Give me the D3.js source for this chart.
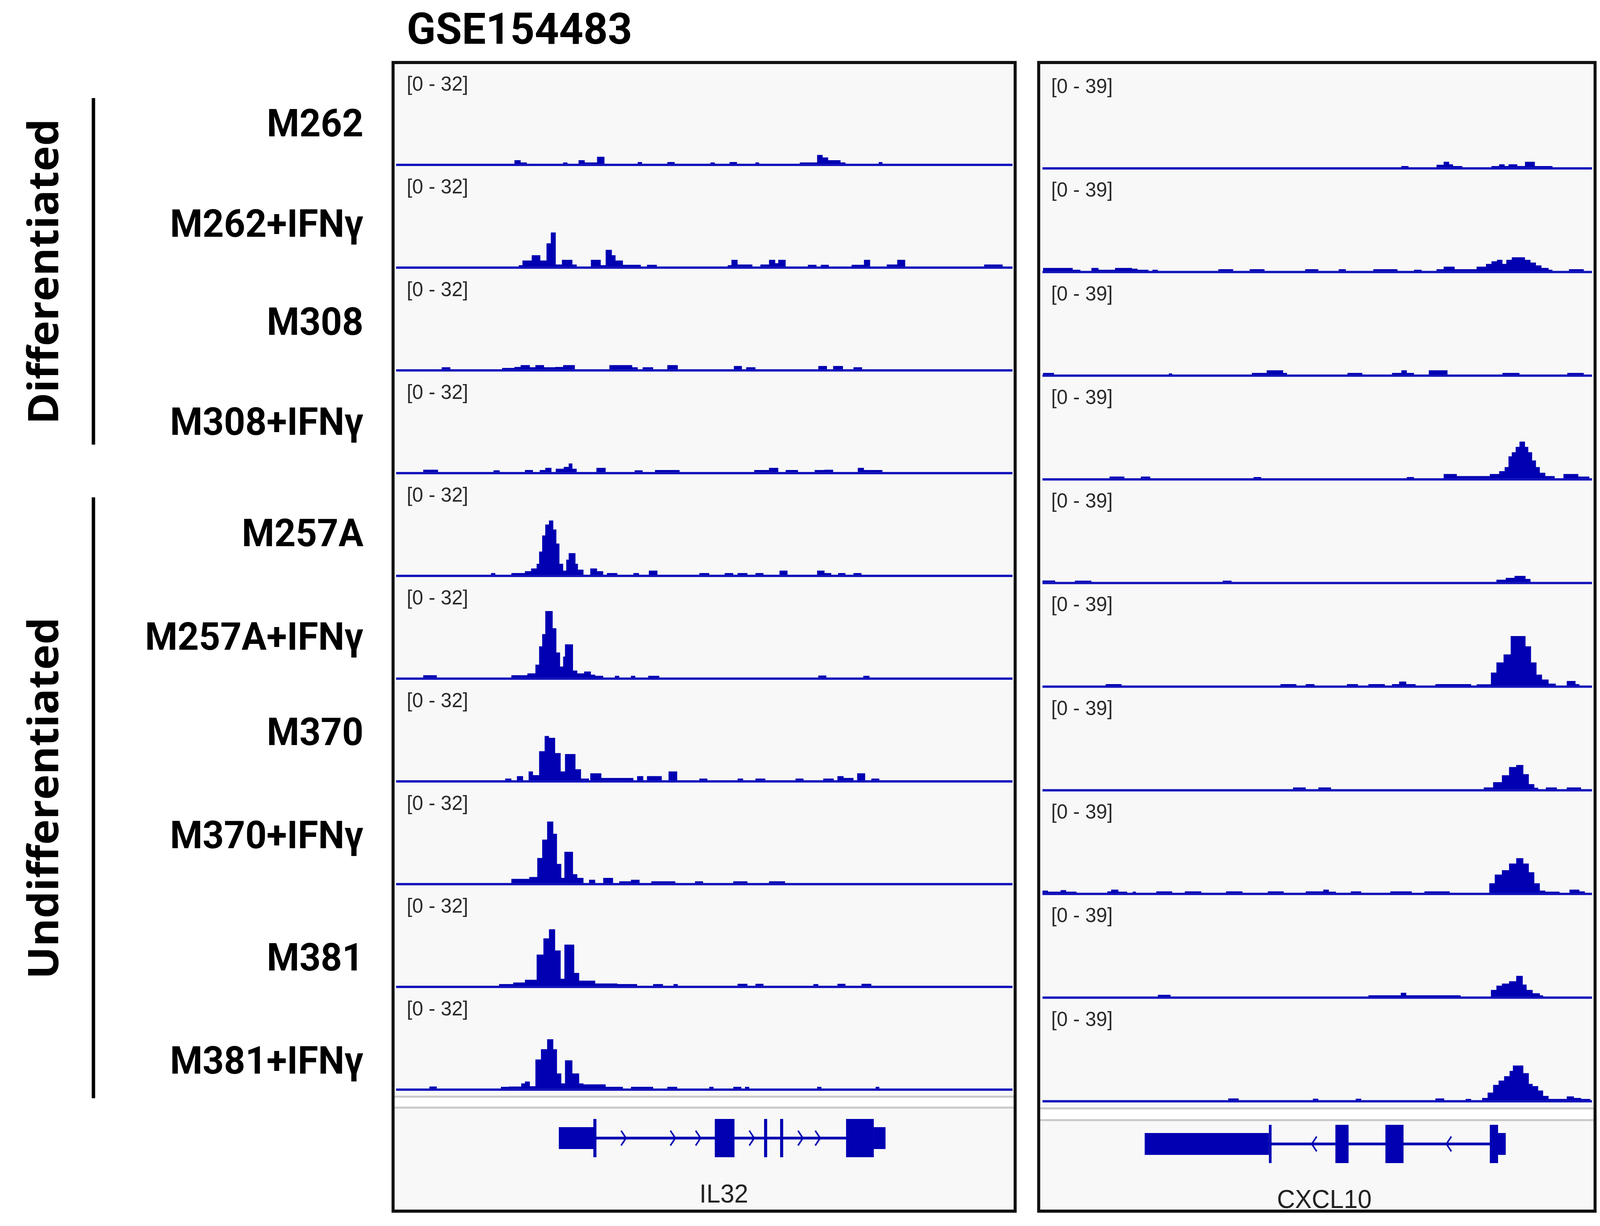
<!DOCTYPE html>
<html>
<head>
<meta charset="utf-8">
<script src="https://cdn.jsdelivr.net/npm/d3@7/dist/d3.min.js"></script>
<style>
  html, body { margin: 0; padding: 0; width: 100%; height: 100%; overflow: hidden; background: #fff; }
  svg { display: block; width: 100vw; height: 100vh; }
</style>
</head>
<body>
<svg id="chart"></svg>
<script>
// sample names, top to bottom
const samples = ['M262', 'M262+IFNγ', 'M308', 'M308+IFNγ', 'M257A', 'M257A+IFNγ', 'M370', 'M370+IFNγ', 'M381', 'M381+IFNγ'];
const groups = [
  { name: 'Differentiated', first: 0, last: 3 },
  { name: 'Undifferentiated', first: 4, last: 9 }
];

// coverage: [start, end, value], start/end in % of the locus window
const il32_M262 = [[19.2,20.2,1.5],[20.2,21.2,0.8],[27.1,27.8,0.8],[29.6,30.6,1.5],[30.6,32.6,0.8],[32.6,33.8,2.6],[39.2,39.9,0.9],[44,45.2,0.9],[51,51.7,0.8],[54.1,55.3,0.9],[58.3,58.9,0.8],[65.5,68.3,0.8],[68.3,69.2,3.2],[69.2,70.1,2.4],[70.1,72.1,1.5],[72.1,72.9,0.8],[78.3,78.9,0.9]];
const il32_M262_IFNg = [[19.9,20.5,0.8],[20.5,22,2.3],[22,23.4,4],[23.4,24.4,2.3],[24.4,25.1,7.8],[25.1,25.9,11.3],[25.9,26.9,1],[26.9,28.6,2.5],[28.6,29.3,1],[31.6,33.2,2.5],[33.2,34,0.8],[34,35,5.7],[35,35.6,4],[35.6,36.8,2.3],[36.8,39.7,0.9],[40.7,42.3,0.9],[53.8,54.4,0.8],[54.4,55.4,2.5],[55.4,57.8,1],[59.1,60.5,1],[60.5,61.5,2.5],[61.5,62,1.4],[62,63.2,2.5],[66.8,68.2,0.9],[68.9,70.2,0.9],[73.9,75.9,0.9],[75.9,76.9,2.5],[79.6,81.3,1],[81.3,82.6,2.5],[95.4,98.4,1]];
const il32_M308 = [[7.4,8.8,1],[17.2,19.2,0.8],[19.2,20.2,1.1],[20.2,21.7,1.7],[21.7,22.6,1],[22.6,24,1.7],[24,25.8,1],[25.8,27.1,1.1],[27.1,29,1.7],[34.6,38.3,1.7],[38.3,39.2,1],[40,41.7,1],[44,45.7,1.7],[54.8,56.1,1.4],[56.8,58.3,1],[68.5,69.9,1.4],[70.9,72.5,1.4],[74.2,75.6,1]];
const il32_M308_IFNg = [[4.4,6.8,1.1],[15.8,16.8,0.9],[20.9,22.2,1],[23.3,24.2,1],[24.2,25.2,1.7],[25.9,27.2,1.4],[27.2,28,2],[28,28.6,3.1],[28.6,29.3,1.4],[32.5,34,1.7],[38.7,40,0.9],[42,46,1],[58.1,60.5,1],[60.5,62,1.7],[63.2,65.2,1],[67.9,69.5,1],[69.5,70.9,1.1],[74.9,75.9,1.7],[75.9,78.9,1]];
const il32_M257A = [[15.4,16.1,0.9],[18.7,20.9,0.9],[20.9,21.9,1.5],[21.9,22.8,2.4],[22.8,23.2,3.9],[23.2,23.7,7.8],[23.7,24.2,13],[24.2,24.8,16.5],[24.8,25.5,17.8],[25.5,26,14.9],[26,26.5,10.4],[26.5,27.1,3.9],[27.1,27.6,1.7],[27.6,28,5.2],[28,29.1,7.3],[29.1,29.5,3.9],[29.5,30.4,2],[31.5,32.6,2.4],[32.6,33.6,1.5],[34.2,35.9,0.9],[38.5,39.4,0.9],[41,42.4,1.7],[49.2,50.8,0.9],[53.3,54.7,0.9],[55.4,57,0.9],[58.3,59.6,0.9],[62.2,63.5,1.7],[68.3,69.5,1.7],[69.5,70.6,0.9],[71.7,72.9,0.9],[74.2,75.5,0.9]];
const il32_M257A_IFNg = [[4.4,6.6,1.1],[18.7,21.3,1.1],[21.3,22.6,1.7],[22.6,23.2,4.5],[23.2,23.7,10.4],[23.7,24.2,14.3],[24.2,25.4,21.7],[25.4,26,16.2],[26,26.6,8.4],[26.6,27.1,3.9],[27.1,27.4,7.1],[27.4,28.7,11],[28.7,29.4,2.6],[29.4,30.5,1.7],[30.5,31.6,2.3],[31.6,32.3,1.3],[32.3,33.6,0.9],[35.5,36.2,0.9],[38.1,38.8,0.9],[40.9,42.7,0.9],[68.5,69.8,1],[75.8,76.8,0.9]];
const il32_M370 = [[17.7,18.7,0.9],[19.6,20.6,1.7],[21.5,22.2,3.2],[22.2,23.2,2],[23.2,24.1,9.7],[24.1,24.8,14.6],[24.8,25.8,14],[25.8,26.7,9.1],[26.7,27.4,3.2],[27.4,29.1,8.8],[29.1,30,3.9],[30,31.3,0.9],[31.5,33.3,2.6],[33.3,34.6,1.1],[34.6,38.5,1.1],[39.1,40.1,1.7],[40.7,43.1,1.7],[44.2,45.6,3.2],[49.2,50.5,0.9],[55.4,56.3,0.9],[58.3,59.9,0.9],[64.8,66.1,0.9],[69.3,71,0.9],[71.6,72.6,1.7],[72.6,74.2,1.1],[74.8,76.1,2.6],[77.1,78.4,0.9]];
const il32_M370_IFNg = [[18.7,21.6,1.7],[21.6,22.9,2.3],[22.9,23.7,8.4],[23.7,24.5,14.3],[24.5,25.5,20.1],[25.5,26.1,16.2],[26.1,26.8,6.5],[26.8,27.3,2],[27.3,28.7,10.4],[28.7,29.4,3.2],[29.4,30.4,2],[31.3,32.3,1.4],[33.6,35.2,2],[36.2,38.1,0.9],[38.1,39.5,1.4],[41.4,45.3,0.9],[48.5,49.8,0.9],[54.7,57,0.9],[60.5,63.1,0.9]];
const il32_M381 = [[16.7,19,0.9],[19,20.9,1.4],[20.9,22.8,2.3],[22.8,23.9,10.4],[23.9,24.8,15.6],[24.8,25.8,18.5],[25.8,26.7,11.7],[26.7,27.3,2.6],[27.3,28.9,13.6],[28.9,29.7,4.5],[29.7,32.3,2],[32.3,35.9,1.1],[35.9,39.1,0.9],[41.7,43.3,0.9],[45,45.7,0.9],[55.4,57,1],[58.3,59.6,1],[67.7,68.5,0.9],[71.6,72.9,1],[75.5,77.1,1]];
const il32_M381_IFNg = [[5.4,6.6,1],[17,18.3,0.9],[18.3,20.3,1],[20.3,20.9,2],[20.9,21.7,2.6],[21.7,22.6,1.1],[22.6,23.5,9.7],[23.5,24.5,13],[24.5,25.5,16.2],[25.5,26.1,13],[26.1,26.8,5.2],[26.8,27.4,2],[27.4,28.6,9.4],[28.6,29.7,5.2],[29.7,30.4,2],[30.4,34,1.7],[34,36.8,0.9],[38.1,41.7,0.9],[44,45.6,0.9],[50.8,51.5,0.9],[54.7,56,0.9],[56.6,57.3,0.9],[68.3,69,0.9],[77.8,78.4,0.9]];

const cxcl10_M262 = [[65.3,66.6,0.9],[71.7,73,1.4],[73,74,2.6],[74,74.7,1.6],[74.7,76.4,0.9],[81.7,83.1,0.9],[83.1,84.1,1.6],[84.1,84.8,0.9],[84.8,86.4,1.6],[86.4,87.8,0.9],[87.8,89.6,2.6],[89.6,92.8,0.9]];
const cxcl10_M262_IFNg = [[0.1,5.5,1.6],[5.5,6.9,0.9],[8.9,10.2,1.6],[10.2,13.2,0.9],[13.2,16.3,1.6],[16.3,17.3,1.3],[17.3,19.3,0.9],[20,21,0.9],[32,34.7,1.1],[37.7,40.4,1.1],[47.8,50.2,1.1],[53.9,55.2,1.1],[60.2,64.6,1.1],[67.6,69,0.9],[71.7,73,1.1],[73,75,2.1],[75,79,1.1],[79,80.7,2.1],[80.7,81.7,3.2],[81.7,82.7,4.2],[82.7,83.7,4.8],[83.7,84.4,3.2],[84.4,85.4,4.8],[85.4,87.8,5.8],[87.8,88.8,4.8],[88.8,89.8,3.7],[89.8,90.8,2.6],[90.8,92.1,1.6],[92.1,92.8,0.9],[95.8,98.5,1.1]];
const cxcl10_M308 = [[0.1,2.1,1.1],[23,23.6,0.9],[38.1,40.8,1.1],[40.8,43.8,2.1],[43.8,44.5,1.1],[55.5,58.2,1.1],[63.6,65.3,1.1],[65.3,66.3,2.1],[66.3,67.6,1.1],[70.3,73.7,2.1],[83.7,86.8,1.1],[95.5,98.5,1.1]];
const cxcl10_M308_IFNg = [[12.2,14.9,1.1],[17.9,19.6,1.1],[38.4,39.8,0.9],[66.3,67.6,0.9],[73,75.4,2.1],[75.4,79,1.3],[79,81.4,1.3],[81.4,83.1,2.1],[83.1,84.1,3.2],[84.1,84.8,4.8],[84.8,85.4,9],[85.4,86.1,10.6],[86.1,86.8,12.7],[86.8,87.8,14.8],[87.8,88.4,12.7],[88.4,89.1,10.6],[89.1,89.8,7.4],[89.8,90.5,4.8],[90.5,91.5,2.6],[91.5,93.2,1.3],[94.8,97.5,2.1],[97.5,99.5,1.1]];
const cxcl10_M257A = [[0,2.3,1],[5.9,8.9,0.9],[32.8,34.4,0.9],[82.6,84.3,1.3],[84.3,85.9,2],[85.9,87.9,2.8],[87.9,88.8,1.6]];
const cxcl10_M257A_IFNg = [[11.5,14.4,1],[43.3,46.2,1],[47.9,49.5,1],[55.4,57.4,1],[59.3,62.3,1],[63.6,64.9,1],[64.9,66.2,2],[66.2,67.9,1],[71.5,78,1],[79,81.6,0.9],[81.6,82.6,5.5],[82.6,83.9,9.5],[83.9,85.2,12.6],[85.2,87.9,19.8],[87.9,88.9,15.8],[88.9,89.9,9.5],[89.9,90.9,4.7],[90.9,92.1,2.8],[92.1,93.4,1.2],[95.4,97,2.2],[97,97.7,1]];
const cxcl10_M370 = [[45.6,47.9,1.1],[50.2,52.5,1.1],[80.3,82,1.1],[82,83.6,3.2],[83.6,84.9,5.9],[84.9,86.2,9.1],[86.2,87.5,9.9],[87.5,88.5,6.3],[88.5,89.5,2.4],[89.5,90.2,1],[91.6,93.6,1.1],[95.4,98,1.1]];
const cxcl10_M370_IFNg = [[0,1,1.3],[1,3.3,0.9],[3.3,4.3,1.5],[4.3,6.2,0.9],[11.8,12.5,1],[12.5,13.8,1.7],[13.8,15.4,0.9],[16.4,17,0.9],[20.7,23.6,1],[25.9,28.9,1],[33.4,36.4,1],[41,43.9,1],[47.9,51.1,1],[51.1,52.1,1.7],[52.1,53.4,0.9],[56.1,58,1],[63.3,67.2,1],[69.5,74.1,1],[81.3,82.3,4.2],[82.3,83.6,7.6],[83.6,84.9,9.3],[84.9,86.2,11.9],[86.2,87.5,14],[87.5,88.5,11.9],[88.5,89.5,8.5],[89.5,90.5,4.2],[90.5,91.5,1.3],[91.5,94.1,0.9],[95.9,97.7,1.7],[97.7,98.7,1]];
const cxcl10_M381 = [[21,23.3,1.1],[59.3,65.2,0.9],[65.2,66.2,1.9],[66.2,67.2,0.9],[67.2,76.1,0.9],[81.6,82.6,3],[82.6,83.6,4.7],[83.6,84.9,5.5],[84.9,86.2,6.4],[86.2,87.4,8.5],[87.4,88.1,5.1],[88.1,89.2,3],[89.2,90.5,1.7],[90.5,91.1,0.9]];
const cxcl10_M381_IFNg = [[33.8,35.7,1.1],[49.2,50.2,1],[57,58,1],[71.5,73.1,1.1],[77,78,0.9],[80,81,1.3],[81,82,3.4],[82,83,6.4],[83,84,8.1],[84,85,9.8],[85,85.6,11.9],[85.6,87.5,14],[87.5,88.5,11],[88.5,89.2,6.8],[89.2,90.2,5.9],[90.2,91.1,4.2],[91.1,92.1,2.1],[92.1,95.4,0.9],[95.4,96.7,1.9],[96.7,98,1.3],[98,99.7,0.9]];

// gene models: [start, end, kind]  (utr = thin block, cds = tall block)
const il32Exons = [[26.4,32.0,'utr'],[32.0,32.5,'cds'],[51.7,54.9,'cds'],[59.7,60.2,'cds'],[62.3,62.8,'cds'],[73.0,77.5,'cds'],[77.5,79.4,'utr']];
const il32Strand = [37.3, 45.3, 49.4, 58.1, 66.0, 68.8];
const cxcl10Exons = [[18.6,41.2,'utr'],[41.2,41.6,'cds'],[53.3,55.7,'cds'],[62.4,65.7,'cds'],[81.4,82.9,'cds'],[82.9,84.3,'utr']];
const cxcl10Strand = [49.0, 73.5];

// layout
const W = 4213, H = 3138;
const blue = '#0000b2';
const frameTop = 160, frameBottom = 3100;
const labelY = [349, 606, 857, 1113, 1398, 1663, 1907, 2171, 2484, 2748];

const panels = [
  { gene: 'IL32', max: 32, x0: 1035, x1: 2673, dx: [1043, 2666], base0: 422, step: 263,
    tracks: [il32_M262, il32_M262_IFNg, il32_M308, il32_M308_IFNg, il32_M257A, il32_M257A_IFNg, il32_M370, il32_M370_IFNg, il32_M381, il32_M381_IFNg],
    exons: il32Exons, strand: il32Strand, dir: 1, divider: [2807, 2835], geneY: 2913, nameX: 1906, nameY: 3078 },
  { gene: 'CXCL10', max: 39, x0: 2735, x1: 4200, dx: [2745, 4192], base0: 431, step: 265.3,
    tracks: [cxcl10_M262, cxcl10_M262_IFNg, cxcl10_M308, cxcl10_M308_IFNg, cxcl10_M257A, cxcl10_M257A_IFNg, cxcl10_M370, cxcl10_M370_IFNg, cxcl10_M381, cxcl10_M381_IFNg],
    exons: cxcl10Exons, strand: cxcl10Strand, dir: -1, divider: [2837, 2867], geneY: 2928, nameX: 3487, nameY: 3092 }
];

// turn [start, end, value] runs into step points for one filled area
function steps(segs) {
  const pts = [{ x: 0, v: 0 }];
  segs.forEach((s, i) => {
    pts.push({ x: s[0], v: s[2] });
    const next = segs[i + 1];
    if (!next || next[0] > s[1]) pts.push({ x: s[1], v: 0 });
  });
  pts.push({ x: 100, v: 0 });
  return pts;
}

// stretch the 4213x3138 drawing over whatever viewport we get
const svg = d3.select('#chart')
  .attr('viewBox', '0 0 ' + W + ' ' + H)
  .attr('preserveAspectRatio', 'none');
svg.append('rect').attr('width', W).attr('height', H).attr('fill', '#fff');

// title
svg.append('text')
  .attr('x', 1071).attr('y', 112)
  .style('font-family', 'Roboto, sans-serif').style('font-weight', 700).style('font-size', '112px')
  .text('GSE154483');

// sample labels
svg.selectAll('text.sample')
  .data(samples).enter().append('text')
  .attr('class', 'sample')
  .attr('x', 957).attr('y', (d, i) => labelY[i])
  .attr('text-anchor', 'end')
  .style('font-family', 'Roboto, sans-serif').style('font-weight', 700).style('font-size', '98px')
  .text(d => d);

// group brackets (vertical bar + rotated label)
const groupSpan = [[251, 1138], [1273, 2811]];
const groupMid = [695, 2043];
groups.forEach((g, i) => {
  svg.append('line')
    .attr('x1', 246).attr('x2', 246)
    .attr('y1', groupSpan[i][0]).attr('y2', groupSpan[i][1])
    .attr('stroke', '#000').attr('stroke-width', 9);
  svg.append('text')
    .attr('transform', 'translate(153,' + groupMid[i] + ') rotate(-90)')
    .attr('text-anchor', 'middle')
    .style('font-family', '"Open Sans", sans-serif').style('font-weight', 700).style('font-size', '110px')
    .text(g.name);
});

panels.forEach((p, pi) => {
  const g = svg.append('g');
  const x = d3.scaleLinear().domain([0, 100]).range(p.dx);

  // panel background
  g.append('rect')
    .attr('x', p.x0).attr('y', frameTop)
    .attr('width', p.x1 - p.x0).attr('height', frameBottom - frameTop)
    .attr('fill', '#f8f8f8');

  // clip for data
  svg.append('clipPath').attr('id', 'clip' + pi)
    .append('rect')
    .attr('x', p.x0).attr('y', frameTop)
    .attr('width', p.x1 - p.x0).attr('height', frameBottom - frameTop);
  const inner = g.append('g').attr('clip-path', 'url(#clip' + pi + ')');

  // coverage tracks
  p.tracks.forEach((segs, ti) => {
    const base = p.base0 + ti * p.step;
    const y = d3.scaleLinear().domain([0, p.max]).range([base, base - 255]);
    const area = d3.area()
      .curve(d3.curveStepAfter)
      .x(d => x(d.x))
      .y0(base)
      .y1(d => y(d.v));
    const t = inner.append('g');

    t.append('path')
      .datum(steps(segs))
      .attr('d', area)
      .attr('fill', blue);

    t.append('line')
      .attr('x1', p.dx[0]).attr('x2', p.dx[1])
      .attr('y1', base).attr('y2', base)
      .attr('stroke', '#1414bc').attr('stroke-width', 6);

    t.append('text')
      .attr('x', p.x0 + (pi === 0 ? 36 : 33))
      .attr('y', base - (pi === 0 ? 190 : 193))
      .style('font-family', '"Liberation Sans", Arial, sans-serif').style('font-size', '52px')
      .attr('fill', '#2a2a2a')
      .text('[0 - ' + p.max + ']');
  });

  // divider between data and gene track
  inner.append('rect')
    .attr('x', p.x0).attr('y', p.divider[0])
    .attr('width', p.x1 - p.x0).attr('height', p.divider[1] - p.divider[0])
    .attr('fill', '#fff');
  p.divider.forEach(yy => {
    inner.append('line')
      .attr('x1', p.x0).attr('x2', p.x1)
      .attr('y1', yy).attr('y2', yy)
      .attr('stroke', '#c8c8c8').attr('stroke-width', 5);
  });

  // gene model: intron line, exon blocks, strand chevrons
  const coding = p.exons.filter(e => e[2] === 'cds');
  inner.append('line')
    .attr('x1', x(d3.min(coding, e => e[0]))).attr('x2', x(d3.max(coding, e => e[1])))
    .attr('y1', p.geneY).attr('y2', p.geneY)
    .attr('stroke', blue).attr('stroke-width', 7);

  inner.selectAll('rect.exon')
    .data(p.exons).enter().append('rect')
    .attr('class', 'exon')
    .attr('x', d => x(d[0]))
    .attr('width', d => Math.max(7, x(d[1]) - x(d[0])))
    .attr('y', d => p.geneY - (d[2] === 'cds' ? 49 : 28))
    .attr('height', d => d[2] === 'cds' ? 98 : 56)
    .attr('fill', blue);

  inner.selectAll('path.strand')
    .data(p.strand).enter().append('path')
    .attr('class', 'strand')
    .attr('d', d => {
      const cx = x(d), w = 13 * p.dir;
      return 'M' + (cx - w) + ',' + (p.geneY - 19) + 'L' + cx + ',' + p.geneY + 'L' + (cx - w) + ',' + (p.geneY + 19);
    })
    .attr('fill', 'none').attr('stroke', blue).attr('stroke-width', 4);

  inner.append('text')
    .attr('x', p.nameX).attr('y', p.nameY)
    .attr('text-anchor', 'middle')
    .style('font-family', '"Liberation Sans", Arial, sans-serif').style('font-size', '66px')
    .attr('fill', '#222')
    .text(p.gene);

  // frame
  g.append('rect')
    .attr('x', p.x0).attr('y', frameTop)
    .attr('width', p.x1 - p.x0).attr('height', frameBottom - frameTop)
    .attr('fill', 'none').attr('stroke', '#111').attr('stroke-width', 8);
});
</script>
</body>
</html>
